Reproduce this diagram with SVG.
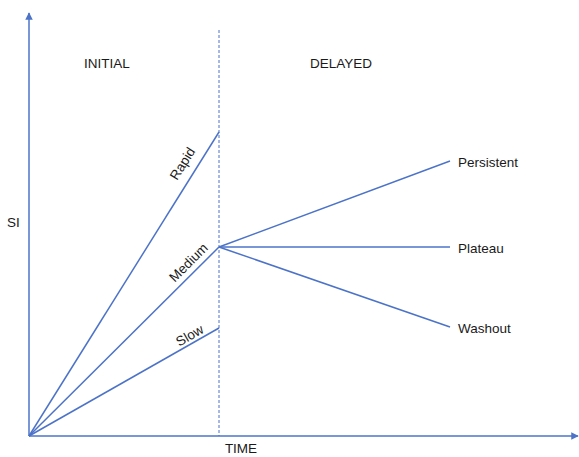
<svg xmlns="http://www.w3.org/2000/svg" width="579" height="457" viewBox="0 0 579 457">
<style>
.ln{stroke:#4c73c8;stroke-width:1.5;fill:none}
.dash{stroke:#4c73c8;stroke-width:1;stroke-dasharray:3,2;fill:none}
text{font-family:"Liberation Sans",Arial,sans-serif;font-size:13.5px;fill:#1a1a1a}
</style>
<defs>
<marker id="ah" viewBox="0 0 10 10" refX="9" refY="5" markerWidth="5" markerHeight="5" orient="auto"><path d="M0,0L10,5L0,10z" fill="#4c73c8"/></marker>
</defs>
<rect width="579" height="457" fill="#fff"/>
<g id="connectors">
<line class="ln" x1="29" y1="436" x2="29" y2="13" marker-end="url(#ah)"/>
<line class="ln" x1="29" y1="436" x2="578" y2="436" marker-end="url(#ah)"/>
<line class="dash" x1="219" y1="30" x2="219" y2="436"/>
<line class="ln" x1="29" y1="436" x2="219" y2="132"/>
<line class="ln" x1="29" y1="436" x2="219" y2="247"/>
<line class="ln" x1="29" y1="436" x2="219" y2="328"/>
<line class="ln" x1="219" y1="247" x2="450" y2="161"/>
<line class="ln" x1="219" y1="247" x2="450" y2="247"/>
<line class="ln" x1="219" y1="247" x2="450" y2="327"/>
</g>
<g id="labels">
<text x="107" y="68" text-anchor="middle">INITIAL</text>
<text x="341" y="68" text-anchor="middle">DELAYED</text>
<text x="7" y="227">SI</text>
<text x="241" y="453" text-anchor="middle">TIME</text>
<text x="458" y="167">Persistent</text>
<text x="458" y="253">Plateau</text>
<text x="458" y="333">Washout</text>
<text transform="translate(183,164) rotate(-58)" text-anchor="middle" dy="4">Rapid</text>
<text transform="translate(189,263) rotate(-45)" text-anchor="middle" dy="4">Medium</text>
<text transform="translate(190,336) rotate(-30)" text-anchor="middle" dy="4">Slow</text>
</g>
</svg>
